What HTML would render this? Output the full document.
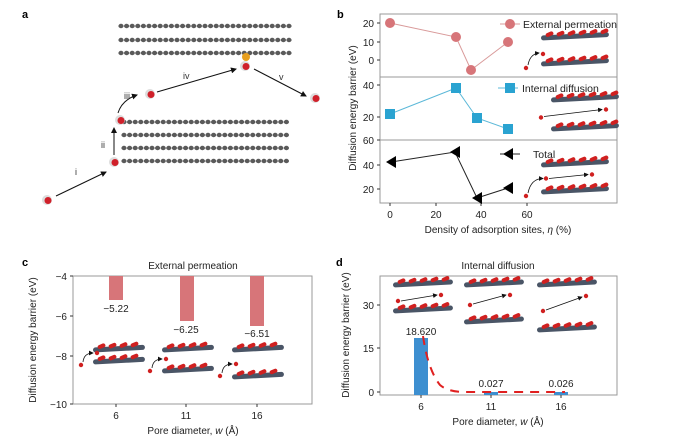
<!DOCTYPE html>
<html><head><meta charset="utf-8"><style>
html,body{margin:0;padding:0;background:#fff}
svg{display:block;font-family:"Liberation Sans",sans-serif}
</style></head><body>
<svg id="s" width="690" height="440" viewBox="0 0 690 440" xmlns="http://www.w3.org/2000/svg">
<defs>
<marker id="ar" markerWidth="6" markerHeight="6" refX="5" refY="3" orient="auto"><path d="M0,0 L6,3 L0,6 z" fill="#111"/></marker>
</defs>
<g font-weight="bold" font-size="11" fill="#000">
<text x="22" y="18">a</text><text x="337" y="18">b</text><text x="22" y="266">c</text><text x="336" y="266">d</text>
</g>
<g id="layers"></g>
<g stroke="#111" stroke-width="1" fill="none" marker-end="url(#ar)">
<line x1="56" y1="196" x2="106" y2="172"/>
<line x1="114" y1="155" x2="114" y2="128"/>
<path d="M118,113 Q122,100 137,95"/>
<line x1="157" y1="92" x2="236" y2="69"/>
<line x1="254" y1="69" x2="306" y2="96"/>
</g>
<g font-size="9" fill="#333">
<text x="75" y="175">i</text><text x="101" y="148">ii</text><text x="124" y="99">iii</text><text x="183" y="79">iv</text><text x="279" y="80">v</text>
</g>
<circle cx="246" cy="57" r="4" fill="#e8a020"/>
<g id="mols"></g>

<g fill="none" stroke="#999" stroke-width="1">
<rect x="380" y="14" width="237" height="189"/>
<line x1="380" y1="77" x2="617" y2="77"/><line x1="380" y1="140" x2="617" y2="140"/>
</g>
<g stroke="#333" stroke-width="1">
<line x1="380" y1="23" x2="377" y2="23"/><line x1="380" y1="42" x2="377" y2="42"/><line x1="380" y1="60" x2="377" y2="60"/>
<line x1="380" y1="85" x2="377" y2="85"/><line x1="380" y1="117" x2="377" y2="117"/>
<line x1="380" y1="140" x2="377" y2="140"/><line x1="380" y1="165" x2="377" y2="165"/><line x1="380" y1="189" x2="377" y2="189"/>
<line x1="390" y1="203" x2="390" y2="206"/><line x1="436" y1="203" x2="436" y2="206"/><line x1="481" y1="203" x2="481" y2="206"/><line x1="527" y1="203" x2="527" y2="206"/>
</g>
<g font-size="10" fill="#222" text-anchor="end">
<text x="374" y="27">20</text><text x="374" y="46">10</text><text x="374" y="64">0</text>
<text x="374" y="89">40</text><text x="374" y="121">20</text>
<text x="374" y="144">60</text><text x="374" y="169">40</text><text x="374" y="193">20</text>
</g>
<g font-size="10" fill="#222" text-anchor="middle">
<text x="390" y="218">0</text><text x="436" y="218">20</text><text x="481" y="218">40</text><text x="527" y="218">60</text>
<text x="498" y="233">Density of adsorption sites, <tspan font-style="italic">η</tspan> (%)</text>
<text transform="translate(356,108) rotate(-90)">Diffusion energy barrier (eV)</text>
</g>
<polyline points="390,23 456,37 471,70 508,42" fill="none" stroke="#d99a9a" stroke-width="1"/>
<g fill="#d77579"><circle cx="390" cy="23" r="5"/><circle cx="456" cy="37" r="5"/><circle cx="471" cy="70" r="5"/><circle cx="508" cy="42" r="5"/></g>
<polyline points="390,114 456,88 477,118 508,129" fill="none" stroke="#5bb8d8" stroke-width="1"/>
<g fill="#2aa3d1"><rect x="385" y="109" width="10" height="10"/><rect x="451" y="83" width="10" height="10"/><rect x="472" y="113" width="10" height="10"/><rect x="503" y="124" width="10" height="10"/></g>
<polyline points="391,162 455,152 477,198 508,188" fill="none" stroke="#222" stroke-width="1"/>
<g fill="#000"><path d="M386,162 l10,-6 v12z"/><path d="M450,152 l10,-6 v12z"/><path d="M472,198 l10,-6 v12z"/><path d="M503,188 l10,-6 v12z"/></g>
<line x1="500" y1="24" x2="520" y2="24" stroke="#d99a9a"/><circle cx="510" cy="24" r="5" fill="#d77579"/>
<line x1="498" y1="88" x2="518" y2="88" stroke="#5bb8d8"/><rect x="505" y="83" width="10" height="10" fill="#2aa3d1"/>
<line x1="500" y1="154" x2="520" y2="154" stroke="#222"/><path d="M503,154 l10,-6 v12z"/>
<g font-size="10.5" fill="#222"><text x="523" y="28">External permeation</text><text x="522" y="92">Internal diffusion</text><text x="533" y="158">Total</text></g>

<rect x="73" y="276" width="239" height="128" fill="none" stroke="#999"/>
<g fill="#d77579"><rect x="109" y="276" width="14" height="24"/><rect x="180" y="276" width="14" height="45"/><rect x="250" y="276" width="14" height="50"/></g>
<g stroke="#333"><line x1="73" y1="276" x2="70" y2="276"/><line x1="73" y1="316" x2="70" y2="316"/><line x1="73" y1="356" x2="70" y2="356"/><line x1="73" y1="404" x2="70" y2="404"/>
<line x1="116" y1="404" x2="116" y2="407"/><line x1="186" y1="404" x2="186" y2="407"/><line x1="257" y1="404" x2="257" y2="407"/></g>
<g font-size="10" fill="#222" text-anchor="end"><text x="67" y="280">−4</text><text x="67" y="320">−6</text><text x="67" y="360">−8</text><text x="67" y="408">−10</text></g>
<g font-size="10" fill="#222" text-anchor="middle">
<text x="116" y="419">6</text><text x="186" y="419">11</text><text x="257" y="419">16</text>
<text x="193" y="434">Pore diameter, <tspan font-style="italic">w</tspan> (Å)</text>
<text x="193" y="269">External permeation</text>
<text x="116" y="312">−5.22</text><text x="186" y="333">−6.25</text><text x="257" y="337">−6.51</text>
<text transform="translate(36,340) rotate(-90)">Diffusion energy barrier (eV)</text>
</g>

<rect x="380" y="276" width="237" height="119" fill="none" stroke="#999"/>
<rect x="414" y="338" width="14" height="57" fill="#3d8fd0"/>
<rect x="484" y="392" width="14" height="3" fill="#3d8fd0"/><rect x="554" y="392" width="14" height="3" fill="#3d8fd0"/>
<path d="M423,336 Q428,370 440,385 Q448,392 465,392 L565,392" fill="none" stroke="#e02020" stroke-width="2" stroke-dasharray="9,7"/>
<g stroke="#333"><line x1="380" y1="305" x2="377" y2="305"/><line x1="380" y1="348" x2="377" y2="348"/><line x1="380" y1="392" x2="377" y2="392"/>
<line x1="421" y1="395" x2="421" y2="398"/><line x1="491" y1="395" x2="491" y2="398"/><line x1="561" y1="395" x2="561" y2="398"/></g>
<g font-size="10" fill="#222" text-anchor="end"><text x="374" y="309">30</text><text x="374" y="352">15</text><text x="374" y="396">0</text></g>
<g font-size="10" fill="#222" text-anchor="middle">
<text x="421" y="410">6</text><text x="491" y="410">11</text><text x="561" y="410">16</text>
<text x="498" y="425">Pore diameter, <tspan font-style="italic">w</tspan> (Å)</text>
<text x="498" y="269">Internal diffusion</text>
<text x="421" y="335">18.620</text><text x="491" y="387">0.027</text><text x="561" y="387">0.026</text>
<text transform="translate(349,335) rotate(-90)">Diffusion energy barrier (eV)</text>
</g>
<g id="ins"></g>
</svg>
<script>
var NS="http://www.w3.org/2000/svg";
function el(p,t,a){var e=document.createElementNS(NS,t);for(var k in a)e.setAttribute(k,a[k]);p.appendChild(e);return e;}
var L=document.getElementById("layers");
function row(x0,x1,y){for(var x=x0;x<=x1;x+=5.6){el(L,"ellipse",{cx:x,cy:y,rx:2.6,ry:2.2,fill:"#5a5a5a"});}}
[26,40,53].forEach(function(y){row(121,290,y)});
[122,135,148,161].forEach(function(y){row(124,290,y)});
var M=document.getElementById("mols");
[[47,200],[114,162],[120,120],[150,94],[245,66],[315,98]].forEach(function(p){
el(M,"circle",{cx:p[0],cy:p[1],r:5,fill:"#ddd"});el(M,"circle",{cx:p[0]+1,cy:p[1]+0.5,r:3.5,fill:"#d0202a"});});
var I=document.getElementById("ins");
function strip(x,y,w,ang){var g=el(I,"g",{transform:"translate("+x+","+y+") rotate("+ang+")"});
el(g,"rect",{x:0,y:-2.5,width:w,height:5,rx:2.5,fill:"#4a5566"});
for(var i=5;i<w-6;i+=11){el(g,"rect",{x:i,y:-4,width:8,height:4,rx:2,fill:"#d02020",transform:"rotate(-20 "+i+" -2)"});}}
function dot(x,y){el(I,"circle",{cx:x,cy:y,r:2.2,fill:"#d02020"});}
function arrow(d){el(I,"path",{d:d,fill:"none",stroke:"#111","stroke-width":0.8,"marker-end":"url(#ar)"});}
function inset(x,y,gap,type){strip(x+15,y,68,-3);strip(x+15,y+gap,68,-3);
if(type==0){dot(x,y+gap+4);dot(x+17,y+gap-10);arrow("M"+(x+2)+","+(y+gap+1)+" Q"+(x+4)+","+(y+gap-10)+" "+(x+13)+","+(y+gap-11));}
else if(type==1){dot(x+5,y+gap/2+3);dot(x+70,y+gap/2-5);arrow("M"+(x+8)+","+(y+gap/2+2)+" L"+(x+66)+","+(y+gap/2-5));}
else{dot(x,y+gap+4);dot(x+20,y+gap/2);dot(x+66,y+gap/2-4);arrow("M"+(x+2)+","+(y+gap+1)+" Q"+(x+5)+","+(y+gap/2)+" "+(x+17)+","+(y+gap/2));arrow("M"+(x+23)+","+(y+gap/2)+" L"+(x+62)+","+(y+gap/2-4));}}
inset(526,38,26,0);inset(536,100,29,1);inset(526,165,27,2);
function cins(x,ytop,ybot,dy0){strip(x+12,ytop,52,-3);strip(x+12,ybot,52,-3);
dot(x,dy0);dot(x+16,dy0-12);arrow("M"+(x+2)+","+(dy0-3)+" Q"+(x+3)+","+(dy0-12)+" "+(x+12)+","+(dy0-12));}
cins(81,350,362,365);cins(150,350,371,371);cins(220,350,377,376);
strip(393,285,60,-3);strip(393,311,60,-3);dot(398,301);dot(441,295);arrow("M401,301 L437,295");
strip(464,285,60,-3);strip(464,322,60,-3);dot(470,305);dot(510,295);arrow("M473,304 L506,295");
strip(537,285,60,-3);strip(537,330,60,-3);dot(543,311);dot(586,296);arrow("M546,310 L582,297");
</script>
</body></html>
